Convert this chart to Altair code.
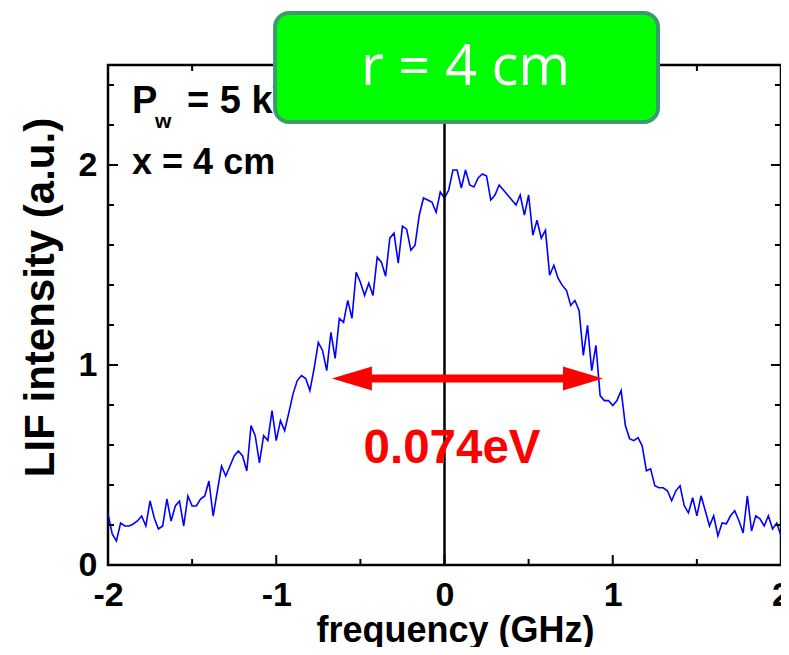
import altair as alt
import pandas as pd

lif = [
    0.256, 0.155, 0.12, 0.21, 0.195, 0.195, 0.205, 0.22, 0.245, 0.195,
    0.32, 0.235, 0.18, 0.195, 0.33, 0.22, 0.295, 0.32, 0.195, 0.345,
    0.295, 0.295, 0.33, 0.345, 0.42, 0.245, 0.37, 0.495, 0.445, 0.495,
    0.545, 0.57, 0.545, 0.47, 0.697, 0.647, 0.511, 0.647, 0.622, 0.772,
    0.622, 0.722, 0.672, 0.762, 0.857, 0.922, 0.947, 0.932, 0.872, 0.982,
    1.113, 1.073, 0.972, 1.163, 1.033, 1.233, 1.213, 1.323, 1.233, 1.464,
    1.414, 1.348, 1.409, 1.348, 1.539, 1.514, 1.444, 1.634, 1.659, 1.509,
    1.694, 1.679, 1.574, 1.599, 1.749, 1.835, 1.825, 1.815, 1.764, 1.865,
    1.835, 1.875, 1.975, 1.975, 1.885, 1.975, 1.9, 1.89, 1.935, 1.955,
    1.945, 1.825, 1.85, 1.9, 1.875, 1.85, 1.825, 1.8, 1.85, 1.749,
    1.85, 1.649, 1.724, 1.634, 1.674, 1.449, 1.499, 1.434, 1.398, 1.373,
    1.298, 1.323, 1.273, 1.048, 1.198, 0.972, 1.098, 0.847, 0.822, 0.822,
    0.797, 0.822, 0.872, 0.697, 0.632, 0.622, 0.637, 0.596, 0.471, 0.481,
    0.396, 0.386, 0.386, 0.371, 0.321, 0.371, 0.396, 0.296, 0.261, 0.336,
    0.246, 0.346, 0.271, 0.195, 0.246, 0.145, 0.21, 0.206, 0.246, 0.271,
    0.221, 0.16, 0.346, 0.17, 0.246, 0.231, 0.195, 0.246, 0.18, 0.21,
    0.145,
]
freq = [round(-2 + 0.025 * i, 3) for i in range(len(lif))]

x_major = [-2, -1, 0, 1, 2]
x_minor = [-1.5, -0.5, 0.5, 1.5]
y_major = [0, 1, 2]
y_minor = [0.2, 0.4, 0.6, 0.8, 1.2, 1.4, 1.6, 1.8, 2.2, 2.4]

W, H = 673, 500
FONT = "Liberation Sans"

xscale = alt.Scale(domain=[-2, 2], nice=False, zero=False)
yscale = alt.Scale(domain=[0, 2.5], nice=False, zero=False)

xaxis = alt.Axis(values=x_major, labelExpr="datum.value", ticks=False,
                 domain=False, grid=False, labelFont=FONT,
                 labelFontWeight="bold", labelFontSize=34,
                 labelColor="black", labelPadding=13, labelFlush=False,
                 title="frequency (GHz)", titleFont=FONT,
                 titleFontWeight="bold", titleFontSize=36,
                 titleColor="black", titleX=347, titleY=76,
                 titleAlign="center", titleBaseline="alphabetic")
yaxis = alt.Axis(values=y_major, labelExpr="datum.value", ticks=False,
                 domain=False, grid=False, labelFont=FONT,
                 labelFontWeight="bold", labelFontSize=34,
                 labelColor="black", labelPadding=11, labelFlush=False,
                 title="LIF intensity (a.u.)", titleFont=FONT,
                 titleFontWeight="bold", titleFontSize=42,
                 titleColor="black", titlePadding=16, titleY=232,
                 titleAlign="center")


def X(field):
    return alt.X(field, type="quantitative", scale=xscale, axis=xaxis)


def Y(field):
    return alt.Y(field, type="quantitative", scale=yscale, axis=yaxis)


df = pd.DataFrame({"freq": freq, "lif": lif})

line = alt.Chart(df).mark_line(color="#0000FF", strokeWidth=1.6).encode(
    x=X("freq"), y=Y("lif"))

zero_line = alt.Chart(pd.DataFrame({"zx": [0]})).mark_rule(
    color="black", strokeWidth=2.5
).encode(x=X("zx"))


def xticks(vals, length):
    base = alt.Chart(pd.DataFrame({"tx": vals}))
    bottom = base.mark_rule(color="black", strokeWidth=2).encode(
        x=X("tx"), y=alt.value(H), y2=alt.value(H - length))
    top = base.mark_rule(color="black", strokeWidth=2).encode(
        x=X("tx"), y=alt.value(0), y2=alt.value(length))
    return [bottom, top]


def yticks(vals, length):
    base = alt.Chart(pd.DataFrame({"ty": vals}))
    left = base.mark_rule(color="black", strokeWidth=2).encode(
        y=Y("ty"), x=alt.value(0), x2=alt.value(length))
    right = base.mark_rule(color="black", strokeWidth=2).encode(
        y=Y("ty"), x=alt.value(W), x2=alt.value(W - length))
    return [left, right]


ticks = xticks(x_major, 10) + xticks(x_minor, 6) + yticks(y_major, 10) + yticks(y_minor, 6)

# FWHM arrow
arrow_y = 0.932
arrow_left, arrow_right = -0.669, 0.942
head_off = 0.119
shaft = alt.Chart(pd.DataFrame({"a1": [arrow_left + 0.08], "a2": [arrow_right - 0.08], "ay": [arrow_y]})).mark_rule(
    color="#FF0000", strokeWidth=8
).encode(x=X("a1"), x2="a2:Q", y=Y("ay"))

head_r = alt.Chart(pd.DataFrame({"hx": [arrow_right - head_off], "hy": [arrow_y]})).mark_point(
    shape="M-1,-0.6L1,0L-1,0.6Z", filled=True, color="#FF0000", opacity=1, size=1600
).encode(x=X("hx"), y=Y("hy"))

head_l = alt.Chart(pd.DataFrame({"hx": [arrow_left + head_off], "hy": [arrow_y]})).mark_point(
    shape="M1,-0.6L-1,0L1,0.6Z", filled=True, color="#FF0000", opacity=1, size=1600
).encode(x=X("hx"), y=Y("hy"))

fwhm = alt.Chart(pd.DataFrame({"tx": [0.045], "ty": [0.58], "t": ["0.074eV"]})).mark_text(
    font=FONT, fontWeight="bold", fontSize=47.5, color="#FF0000", align="center", baseline="middle"
).encode(x=X("tx"), y=Y("ty"), text="t:N")

# condition labels
p_main = alt.Chart(pd.DataFrame({"tx": [-1.857], "ty": [2.261], "t": ["P"]})).mark_text(
    font=FONT, fontWeight="bold", fontSize=38, color="black", align="left", baseline="alphabetic"
).encode(x=X("tx"), y=Y("ty"), text="t:N")
p_sub = alt.Chart(pd.DataFrame({"tx": [-1.721], "ty": [2.185], "t": ["w"]})).mark_text(
    font=FONT, fontWeight="bold", fontSize=21, color="black", align="left", baseline="alphabetic"
).encode(x=X("tx"), y=Y("ty"), text="t:N")
p_rest = alt.Chart(pd.DataFrame({"tx": [-1.530], "ty": [2.261], "t": ["= 5 kW"]})).mark_text(
    font=FONT, fontWeight="bold", fontSize=38, color="black", align="left", baseline="alphabetic"
).encode(x=X("tx"), y=Y("ty"), text="t:N")
x_lab = alt.Chart(pd.DataFrame({"tx": [-1.857], "ty": [1.955], "t": ["x = 4 cm"]})).mark_text(
    font=FONT, fontWeight="bold", fontSize=36, color="black", align="left", baseline="alphabetic"
).encode(x=X("tx"), y=Y("ty"), text="t:N")

# green label box
box = alt.Chart(pd.DataFrame({"bx1": [-1.007], "bx2": [1.269], "by1": [2.76], "by2": [2.215]})).mark_rect(
    fill="#00FF00", stroke="#3D9A6C", strokeWidth=4, cornerRadius=14
).encode(x=X("bx1"), x2="bx2:Q", y=Y("by1"), y2="by2:Q")
box_text = alt.Chart(pd.DataFrame({"tx": [0.125], "ty": [2.486], "t": ["r = 4 cm"]})).mark_text(
    font="Open Sans", fontSize=56, color="white", align="center", baseline="middle"
).encode(x=X("tx"), y=Y("ty"), text="t:N")

chart = alt.layer(
    line, zero_line, *ticks, shaft, head_r, head_l, fwhm,
    p_main, p_sub, p_rest, x_lab, box, box_text
).properties(
    width=W, height=H,
    autosize=alt.AutoSizeParams(type="none"),
    padding={"left": 100, "top": 57, "right": 0, "bottom": 82},
    background="white",
).configure_view(stroke="black", strokeWidth=2.5)

chart.save("out.html", embed_options={"renderer": "svg", "actions": False})
